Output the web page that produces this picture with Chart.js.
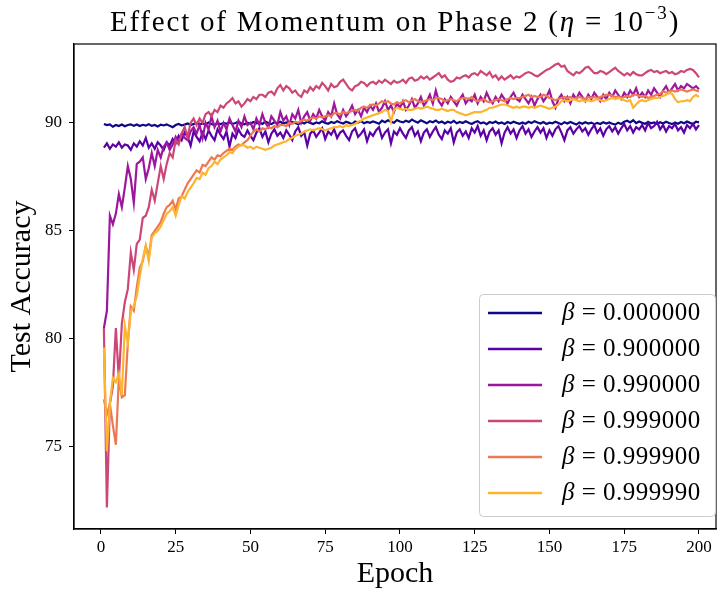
<!DOCTYPE html>
<html>
<head>
<meta charset="utf-8">
<script src="https://cdn.jsdelivr.net/npm/chart.js@4.4.0/dist/chart.umd.min.js"></script>
<style>
  html, body { margin:0; padding:0; background:#fff; }
  #wrap { width:724px; height:592px; }
</style>
</head>
<body>
<div id="wrap"><canvas id="c" width="724" height="592"></canvas></div>
<script>
// epochs 1..200
const epochs = Array.from({length: 200}, (_, i) => i + 1);

const betaLabels = ['0.000000', '0.900000', '0.990000', '0.999000', '0.999900', '0.999990'];
const colors = ['#0d0887', '#5c01a6', '#9c179e', '#cc4778', '#ed7953', '#fdb42f'];

const xTicks = [0, 25, 50, 75, 100, 125, 150, 175, 200];
const yTicks = [75, 80, 85, 90];

// beta = 0
const acc0 = [
  89.95, 89.90, 89.93, 89.82, 89.90, 89.85, 89.92, 89.84, 89.90, 89.93,
  89.86, 89.92, 89.85, 89.91, 89.87, 89.94, 89.86, 89.90, 89.83, 89.92,
  89.88, 89.93, 89.86, 89.80, 89.90, 89.95, 89.88, 89.92, 89.97, 89.90,
  89.95, 90.00, 89.93, 89.97, 89.92, 90.02, 89.95, 89.90, 89.98, 89.94,
  90.00, 89.96, 90.03, 89.95, 89.99, 90.05, 89.97, 89.93, 90.01, 89.96,
  90.04, 89.98, 90.02, 89.95, 90.06, 89.99, 89.94, 90.03, 89.98, 90.05,
  89.97, 90.02, 89.96, 90.04, 89.99, 89.93, 90.03, 89.97, 90.06, 90.00,
  89.95, 90.02, 89.98, 90.07, 90.00, 89.96, 90.04, 89.99, 90.08, 90.02,
  89.97, 90.05, 90.00, 89.94, 90.06, 90.01, 90.08, 89.98, 90.04, 90.00,
  90.07, 90.02, 89.96, 90.10, 90.03, 90.12, 90.05, 90.00, 90.13, 90.06,
  90.02, 90.10, 90.04, 90.15, 90.07, 90.01, 90.12, 90.05, 89.98, 90.08,
  90.03, 90.11, 90.00, 90.06, 89.97, 90.05, 90.00, 90.09, 89.98, 90.04,
  89.99, 90.07, 90.01, 89.95, 90.03, 90.08, 89.98, 90.02, 89.94, 90.04,
  89.99, 90.06, 89.97, 90.02, 89.95, 90.04, 89.98, 90.05, 90.00, 89.96,
  90.02, 89.96, 90.05, 89.99, 90.08, 90.02, 89.97, 90.04, 89.95, 90.01,
  89.98, 90.05, 89.99, 89.93, 90.03, 89.97, 90.04, 89.98, 89.92, 90.02,
  89.96, 90.03, 89.97, 90.01, 89.94, 90.00, 89.95, 90.03, 89.97, 90.02,
  89.96, 89.92, 90.01, 89.95, 90.05, 90.10, 90.02, 90.12, 89.99, 90.06,
  90.00, 89.96, 90.04, 89.98, 90.02, 89.95, 90.03, 89.97, 90.05, 89.99,
  89.94, 90.02, 89.96, 90.04, 89.98, 90.06, 90.00, 89.95, 90.05, 90.02
];

// beta = 0.9
const acc9 = [
  88.85, 89.05, 88.80, 89.00, 88.90, 89.10, 88.85, 89.00, 88.95, 88.75,
  89.05, 88.90, 89.15, 88.95, 89.30, 88.85, 89.05, 88.80, 89.10, 88.95,
  88.75, 89.10, 88.95, 89.25, 89.05, 89.40, 89.20, 89.55, 89.35, 88.95,
  89.60, 89.35, 89.15, 89.55, 89.25, 89.65, 89.40, 89.20, 89.70, 89.45,
  89.25, 89.60, 88.90, 89.50, 89.30, 89.70, 89.45, 89.35, 89.65, 89.40,
  89.20, 89.55, 89.75, 89.35, 89.60, 89.10, 89.50, 89.70, 89.40, 89.55,
  89.30, 89.65, 89.45, 89.20, 89.60, 89.80, 89.40, 89.55, 88.95, 89.50,
  89.65, 89.35, 89.55, 89.75, 89.25, 89.60, 89.45, 89.70, 89.30, 89.55,
  89.65, 89.40, 89.20, 89.60, 89.75, 89.35, 89.50, 89.70, 89.15, 89.55,
  89.40, 89.65, 89.80, 89.30, 89.55, 89.70, 89.05, 89.60, 89.45, 89.75,
  89.50, 89.30, 89.65, 89.80, 89.40, 89.60, 89.15, 89.55, 89.70, 89.35,
  89.60, 89.80, 89.45, 89.25, 89.65, 89.50, 89.75, 89.10, 89.55, 89.70,
  89.40, 89.60, 89.30, 89.75, 89.55, 89.85, 89.40, 89.65, 89.20, 89.60,
  89.75, 89.45, 89.65, 89.05, 89.55, 89.80, 89.50, 89.70, 89.30, 89.65,
  89.85, 89.50, 89.70, 89.35, 89.60, 89.80, 89.55, 89.75, 89.30, 89.65,
  89.40, 89.70, 89.85, 89.55, 89.20, 89.65, 89.80, 89.50, 89.70, 89.85,
  89.60, 89.75, 89.45, 89.70, 89.90, 89.55, 89.75, 89.40, 89.70, 89.85,
  89.60, 89.80, 89.50, 89.75, 89.95, 89.65, 89.85, 89.55, 89.80, 89.70,
  89.90, 89.65, 90.00, 89.75, 89.85, 90.05, 89.70, 89.90, 89.60, 89.85,
  89.75, 89.95, 89.65, 89.80, 89.55, 89.90, 89.75, 89.95, 89.70, 89.90
];

// beta = 0.99
const acc99 = [
  80.5, 81.3, 85.7, 85.3, 85.8, 86.7, 86.1, 87.0, 88.0, 87.4,
  86.3, 88.1, 88.2, 88.4, 87.4, 87.9, 88.6, 88.0, 88.75, 88.4,
  88.9, 89.1, 88.75, 89.0, 89.35, 89.1, 89.5, 89.3, 89.2, 89.6,
  89.8, 89.5, 89.9, 89.3, 90.0, 89.7, 90.3, 89.8, 90.1, 89.6,
  90.0, 89.7, 90.2, 89.9, 89.6, 90.1, 89.8, 90.3, 89.9, 90.0,
  89.7, 90.2, 89.9, 90.4, 90.0, 89.8, 90.3, 90.1, 89.9, 90.5,
  90.1, 90.3, 89.9, 90.4, 90.2, 90.6, 90.0, 90.3, 90.5, 90.1,
  90.4, 90.2, 90.6, 90.3, 90.1, 90.5, 90.3, 90.9, 90.4, 90.2,
  90.6, 90.3, 90.5, 90.8, 90.4, 90.6, 90.3, 90.7, 90.5, 90.8,
  90.6, 90.9, 90.5, 90.7, 91.0, 90.6, 90.8, 90.5, 90.9, 90.7,
  91.0, 90.6, 90.8, 91.1, 90.7, 90.9, 91.2, 90.8, 91.0, 91.3,
  90.9, 91.5, 91.0, 90.8, 91.1, 90.9, 91.2, 91.0, 90.8, 91.1,
  91.3, 90.9, 91.1, 91.0, 91.3, 90.9, 91.2, 91.0, 91.4, 91.1,
  90.9, 91.2, 91.0, 91.3, 91.1, 90.9, 91.2, 91.4, 91.1, 91.0,
  91.3, 91.1, 90.9, 91.2, 90.8, 91.1, 91.3, 91.0, 91.2, 91.5,
  91.0, 90.7, 91.1, 91.3, 91.0, 91.2, 90.9, 91.3, 91.1, 91.4,
  91.2, 91.0, 91.3, 91.1, 91.4, 91.2, 91.0, 91.3, 91.1, 91.4,
  91.2, 91.5, 91.3, 91.1, 91.4, 91.2, 91.5, 91.3, 91.6, 91.2,
  91.4, 91.2, 91.5, 91.3, 91.6, 91.4, 91.2, 91.5, 91.7, 91.4,
  91.6, 91.8, 91.5, 91.7, 91.6, 91.8, 91.7, 91.6, 91.7, 91.55
];

// beta = 0.999
const acc999 = [
  80.5, 72.2, 77.0, 77.8, 80.5, 78.1, 80.7, 81.7, 82.3, 84.0,
  83.2, 84.4, 84.6, 85.6, 85.7, 86.1, 86.9, 86.4, 87.2, 88.0,
  87.4, 88.1, 88.6, 88.4, 89.2, 89.0, 89.5, 89.8, 89.35, 90.0,
  90.2, 89.9, 90.2, 90.0, 90.4, 90.5, 90.3, 90.6, 90.5, 90.8,
  90.7, 90.9, 91.0, 91.15, 90.9, 91.0, 90.75, 90.9, 91.1, 91.0,
  91.2, 91.1, 91.3, 91.3, 91.2, 91.4, 91.45, 91.3, 91.6, 91.75,
  91.5, 91.7, 91.6, 91.4, 91.5, 91.3, 91.2, 91.5, 91.4, 91.65,
  91.5, 91.7, 91.6, 91.85, 91.7, 91.5, 91.8, 91.65, 91.7, 91.9,
  92.0, 91.8, 91.6, 91.5, 91.7, 91.75, 91.9, 91.85, 91.7, 91.85,
  91.9, 91.8, 91.95, 91.85, 92.0, 91.9, 91.8, 91.95, 91.85, 91.9,
  92.0, 91.85, 92.05, 92.1, 91.95, 92.0, 92.15, 92.05, 92.15, 92.0,
  92.1, 92.2, 92.3, 92.1, 92.2, 92.0, 91.9, 91.95, 92.1, 92.05,
  92.15, 92.2, 92.1, 92.25, 92.3, 92.2, 92.4, 92.3, 92.2, 92.35,
  92.1, 92.2, 92.0, 92.15, 92.0, 92.1, 92.2, 92.05, 92.15, 92.1,
  92.2, 92.3, 92.35, 92.3, 92.2, 92.15, 92.25, 92.35, 92.45, 92.5,
  92.6, 92.7, 92.75, 92.6, 92.65, 92.4, 92.3, 92.2, 92.35, 92.3,
  92.4, 92.55, 92.6, 92.45, 92.3, 92.3, 92.4, 92.35, 92.25, 92.35,
  92.45, 92.55, 92.4, 92.3, 92.2, 92.3, 92.2, 92.35, 92.25, 92.2,
  92.2, 92.3, 92.4, 92.45, 92.35, 92.4, 92.3, 92.35, 92.4, 92.3,
  92.35, 92.25, 92.3, 92.4, 92.35, 92.45, 92.5, 92.45, 92.3, 92.1
];

// beta = 0.9999
const acc9999 = [
  77.2, 76.5, 77.0, 76.0, 75.1, 78.2, 77.3, 77.4, 79.8, 81.5,
  81.3, 82.4, 83.3, 83.6, 84.3, 83.8, 84.8, 85.0, 85.2, 85.4,
  85.8, 86.1, 86.2, 86.4, 86.0, 86.5, 86.6, 86.9, 87.2, 87.4,
  87.6, 87.8, 87.7, 88.05, 88.0, 88.2, 88.4, 88.3, 88.5, 88.45,
  88.6, 88.7, 88.8, 88.75, 88.9, 89.0, 88.95, 89.1, 89.2, 89.4,
  89.6, 89.7, 89.6, 89.75, 89.7, 89.8, 89.75, 89.85, 89.8, 89.9,
  89.9, 89.85, 90.0, 89.95, 90.05, 90.0, 90.1, 90.15, 90.1, 90.2,
  90.25, 90.2, 90.3, 90.25, 90.3, 90.35, 90.3, 90.45, 90.45, 90.4,
  90.5, 90.45, 90.5, 90.55, 90.6, 90.55, 90.7, 90.75, 90.7, 90.8,
  90.85, 90.8, 90.9, 91.0, 90.95, 91.0, 90.9, 90.85, 90.95, 90.9,
  91.0, 91.05, 90.95, 91.05, 91.1, 91.0, 90.95, 91.0, 91.05, 91.1,
  91.05, 91.15, 91.15, 91.1, 91.0, 91.05, 91.1, 91.05, 91.0, 91.1,
  91.15, 91.15, 91.1, 91.2, 91.05, 91.0, 91.05, 91.1, 91.0, 90.95,
  91.0, 91.05, 91.1, 91.05, 91.0, 91.1, 91.15, 91.1, 91.15, 91.15,
  91.2, 91.25, 91.3, 91.2, 91.25, 91.2, 91.2, 91.3, 91.25, 91.15,
  91.1, 91.05, 91.1, 91.15, 91.2, 91.15, 91.2, 91.1, 91.15, 91.2,
  91.15, 91.1, 91.2, 91.15, 91.2, 91.15, 91.2, 91.25, 91.3, 91.3,
  91.25, 91.2, 91.2, 91.15, 91.2, 91.25, 91.2, 91.3, 91.3, 91.25,
  91.2, 91.25, 91.15, 91.2, 91.25, 91.3, 91.35, 91.45, 91.4, 91.45,
  91.5, 91.45, 91.5, 91.55, 91.5, 91.45, 91.5, 91.55, 91.5, 91.45
];

// beta = 0.99999
const acc99999 = [
  79.6, 74.8, 77.0, 78.2, 78.0, 78.4, 77.4, 80.6, 79.8, 81.3,
  81.5, 82.0, 82.9, 83.7, 84.3, 83.6, 84.7, 84.9, 85.0, 85.2,
  85.5, 85.8, 85.9, 86.1, 85.7, 86.2, 86.6, 86.5, 86.8, 87.0,
  87.2, 87.45, 87.4, 87.7, 87.6, 87.9, 88.0, 88.2, 88.1, 88.3,
  88.4, 88.5, 88.65, 88.6, 88.8, 88.9, 89.0, 88.95, 88.85, 88.9,
  88.8, 88.9, 88.85, 88.8, 88.75, 88.8, 88.85, 88.95, 89.0, 89.05,
  89.1, 89.15, 89.25, 89.3, 89.4, 89.45, 89.5, 89.6, 89.65, 89.7,
  89.65, 89.7, 89.75, 89.7, 89.65, 89.7, 89.75, 89.8, 89.8, 89.85,
  89.8, 89.9, 89.85, 89.9, 89.95, 90.05, 90.1, 90.2, 90.25, 90.3,
  90.35, 90.4, 90.45, 90.5, 90.6, 90.55, 90.05, 90.6, 90.7, 90.65,
  90.6, 90.65, 90.6, 90.6, 90.65, 90.7, 90.65, 90.7, 90.75, 90.7,
  90.65, 90.6, 90.6, 90.65, 90.6, 90.55, 90.6, 90.6, 90.5, 90.45,
  90.4, 90.35, 90.4, 90.45, 90.5, 90.5, 90.5, 90.55, 90.6, 90.7,
  90.7, 90.75, 90.8, 90.85, 90.85, 90.8, 90.75, 90.7, 90.75, 90.7,
  90.75, 90.75, 90.7, 90.75, 90.7, 90.75, 90.8, 90.75, 90.7, 90.65,
  90.7, 90.75, 90.85, 91.0, 91.05, 91.0, 91.05, 91.1, 91.05, 91.0,
  91.05, 91.0, 91.05, 91.0, 91.05, 91.1, 91.05, 91.0, 91.05, 91.1,
  91.15, 91.1, 91.15, 91.1, 91.05, 91.0, 91.05, 90.7, 90.85, 91.0,
  91.05, 91.0, 91.05, 91.1, 91.15, 91.15, 91.2, 91.25, 91.3, 91.4,
  91.35, 91.1, 90.95, 91.0, 91.0, 91.05, 91.0, 91.2, 91.3, 91.2
];

const series = [acc0, acc9, acc99, acc999, acc9999, acc99999];
const serif = '"Liberation Serif", "DejaVu Serif", serif';

const datasets = series.map((vals, i) => ({
  label: betaLabels[i],
  data: epochs.map((e, j) => ({x: e, y: vals[j]})),
  borderColor: colors[i],
  backgroundColor: colors[i],
  borderWidth: 2.2,
  pointRadius: 0,
  tension: 0,
  fill: false,
  order: series.length - 1 - i   // later betas drawn on top, like matplotlib
}));

// title with italic eta and superscript exponent
const titlePlugin = {
  id: 'mplTitle',
  afterDraw(chart){
    const {ctx, chartArea: a} = chart;
    const parts = [
      {t: 'Effect of Momentum on Phase 2 (', f: '29px ' + serif, dy: 0},
      {t: 'η', f: 'italic 29px ' + serif, dy: 0},
      {t: ' = 10', f: '29px ' + serif, dy: 0},
      {t: '−3', f: '19px ' + serif, dy: -12},
      {t: ')', f: '29px ' + serif, dy: 0}
    ];
    ctx.save();
    ctx.fillStyle = '#000';
    ctx.textBaseline = 'alphabetic';
    ctx.letterSpacing = '1.8px';
    let total = 0;
    parts.forEach(p => { ctx.font = p.f; p.w = ctx.measureText(p.t).width; total += p.w; });
    let x = (a.left + a.right) / 2 - total / 2;
    parts.forEach(p => { ctx.font = p.f; ctx.fillText(p.t, x, 31 + p.dy); x += p.w; });
    ctx.restore();
  }
};

// frame around plot area
const framePlugin = {
  id: 'frame',
  afterDatasetsDraw(chart){
    const {ctx, chartArea: a} = chart;
    ctx.save();
    ctx.strokeStyle = '#000';
    ctx.lineWidth = 1.2;
    ctx.strokeRect(a.left, a.top, a.right - a.left, a.bottom - a.top);
    ctx.restore();
  }
};

// legend in lower right, matplotlib style
const legendPlugin = {
  id: 'mplLegend',
  afterDraw(chart){
    const {ctx, chartArea: a} = chart;
    const w = 236, h = 222;
    const x = a.right - w - 1, y = a.bottom - h - 13;
    ctx.save();
    ctx.fillStyle = 'rgba(255,255,255,0.8)';
    ctx.strokeStyle = '#cccccc';
    ctx.lineWidth = 1;
    ctx.beginPath();
    ctx.roundRect(x + 0.5, y + 0.5, w, h, 4);
    ctx.fill();
    ctx.stroke();
    ctx.letterSpacing = '0.5px';
    chart.data.datasets.forEach((ds, i) => {
      const cy = y + 19 + i * 36;
      ctx.strokeStyle = ds.borderColor;
      ctx.lineWidth = 2.5;
      ctx.beginPath();
      ctx.moveTo(x + 9, cy);
      ctx.lineTo(x + 63, cy);
      ctx.stroke();
      ctx.fillStyle = '#000';
      ctx.textBaseline = 'middle';
      ctx.font = 'italic 25px ' + serif;
      ctx.fillText('β', x + 83, cy);
      const bw = ctx.measureText('β').width;
      ctx.font = '25px ' + serif;
      ctx.fillText(' = ' + ds.label, x + 83 + bw, cy);
    });
    ctx.restore();
  }
};

new Chart(document.getElementById('c'), {
  type: 'line',
  data: {datasets: datasets},
  plugins: [titlePlugin, framePlugin, legendPlugin],
  options: {
    responsive: false,
    animation: false,
    devicePixelRatio: 1,
    layout: {padding: {top: 44, right: 8, left: 0, bottom: 0}},
    plugins: {legend: {display: false}, title: {display: false}, tooltip: {enabled: false}},
    scales: {
      x: {
        type: 'linear',
        min: -9, max: 205.7,
        afterFit(s){ s.height = 63; },
        afterBuildTicks(s){ s.ticks = xTicks.map(v => ({value: v})); },
        grid: {display: true, drawOnChartArea: false, drawTicks: true, tickLength: 5, color: '#000'},
        border: {display: true, color: '#000', width: 1.2},
        ticks: {color: '#000', font: {family: serif, size: 17}, padding: 3, maxRotation: 0},
        title: {display: true, text: 'Epoch', color: '#000', font: {family: serif, size: 30}, padding: {top: 0, bottom: 0}}
      },
      y: {
        min: 71.2, max: 93.65,
        afterFit(s){ s.width = 74; },
        afterBuildTicks(s){ s.ticks = yTicks.map(v => ({value: v})); },
        grid: {display: true, drawOnChartArea: false, drawTicks: true, tickLength: 5, color: '#000'},
        border: {display: true, color: '#000', width: 1.2},
        ticks: {color: '#000', font: {family: serif, size: 17}, padding: 7},
        title: {display: true, text: 'Test Accuracy', color: '#000', font: {family: serif, size: 30}, padding: {top: 4, bottom: 0}}
      }
    }
  }
});
</script>
</body>
</html>
